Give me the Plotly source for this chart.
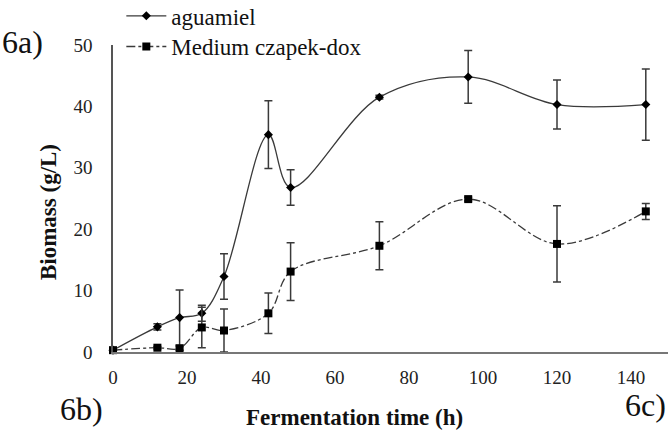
import plotly.graph_objects as go

time_h = [0, 12, 18, 24, 30, 42, 48, 72, 96, 120, 144]
aguamiel = [0.3, 4.1, 5.6, 6.3, 12.3, 35.4, 26.8, 41.5, 44.8, 40.3, 40.3]
aguamiel_err = [0, 0.5, 4.5, 1.3, 3.7, 5.5, 2.9, 0.3, 4.3, 4.0, 5.8]
czapek = [0.3, 0.7, 0.6, 4.0, 3.5, 6.3, 13.1, 17.3, 24.9, 17.6, 22.9]
czapek_err = [0, 0.2, 0.3, 3.3, 3.5, 3.3, 4.7, 3.9, 0.3, 6.2, 1.3]
x_ticks = [0, 20, 40, 60, 80, 100, 120, 140]
y_ticks = [0, 10, 20, 30, 40, 50]

FONT = "'Liberation Serif', 'Times New Roman', 'DejaVu Serif', serif"
LINE = "#3a3a3a"

fig = go.Figure()
fig.add_trace(go.Scatter(
    x=time_h, y=aguamiel, name="aguamiel", mode="lines+markers",
    line=dict(color=LINE, width=1.3, shape="spline", smoothing=1.0),
    marker=dict(symbol="diamond", size=7, color="black"),
    error_y=dict(type="data", array=aguamiel_err, visible=True,
                 color=LINE, thickness=1.5, width=4),
    cliponaxis=False, legend="legend",
))
fig.add_trace(go.Scatter(
    x=time_h, y=czapek, name="Medium czapek-dox", mode="lines+markers",
    line=dict(color=LINE, width=1.3, dash="dashdot", shape="spline", smoothing=1.0),
    marker=dict(symbol="square", size=8, color="black"),
    error_y=dict(type="data", array=czapek_err, visible=True,
                 color=LINE, thickness=1.5, width=4),
    cliponaxis=False, legend="legend2",
))

legend_style = dict(xanchor="left", yanchor="middle", bgcolor="rgba(0,0,0,0)",
                    font=dict(family=FONT, size=23, color="#111"), itemwidth=40,
                    tracegroupgap=0)

fig.update_layout(
    width=672, height=431,
    margin=dict(l=113, r=4, t=45, b=79, autoexpand=False),
    paper_bgcolor="white", plot_bgcolor="white",
    font=dict(family=FONT, color="#222", size=19),
    showlegend=True,
    legend=dict(x=0.015, y=1.095, **legend_style),
    legend2=dict(x=0.015, y=0.995, **legend_style),
    xaxis=dict(range=[0, 150], tickvals=x_ticks, showgrid=False, zeroline=False,
               showline=True, linecolor="#777", linewidth=2, ticks="",
               ticklabelstandoff=7, tickfont=dict(family=FONT, size=19, color="#222")),
    yaxis=dict(range=[0, 50], tickvals=y_ticks, showgrid=False, zeroline=False,
               showline=True, linecolor="#555", linewidth=1.5, ticks="",
               ticklabelstandoff=15, tickfont=dict(family=FONT, size=19, color="#222")),
)

fig.add_annotation(text="<b>Biomass (g/L)</b>", xref="paper", yref="paper",
                   x=-0.117, y=0.456, xanchor="center", yanchor="middle", textangle=-90,
                   showarrow=False, font=dict(family=FONT, size=23, color="#111"))
fig.add_annotation(text="<b>Fermentation time (h)</b>", xref="paper", yref="paper",
                   x=0.436, y=-0.213, xanchor="center", yanchor="middle",
                   showarrow=False, font=dict(family=FONT, size=23, color="#111"))
fig.add_annotation(text="6a)", xref="paper", yref="paper", x=-0.203, y=1.01,
                   xanchor="left", yanchor="middle", showarrow=False,
                   font=dict(family=FONT, size=32, color="#111"))
fig.add_annotation(text="6b)", xref="paper", yref="paper", x=-0.1, y=-0.186,
                   xanchor="left", yanchor="middle", showarrow=False,
                   font=dict(family=FONT, size=32, color="#111"))
fig.add_annotation(text="6c)", xref="paper", yref="paper", x=1.0, y=-0.173,
                   xanchor="right", yanchor="middle", showarrow=False,
                   font=dict(family=FONT, size=32, color="#111"))

fig.write_html("out.html")
